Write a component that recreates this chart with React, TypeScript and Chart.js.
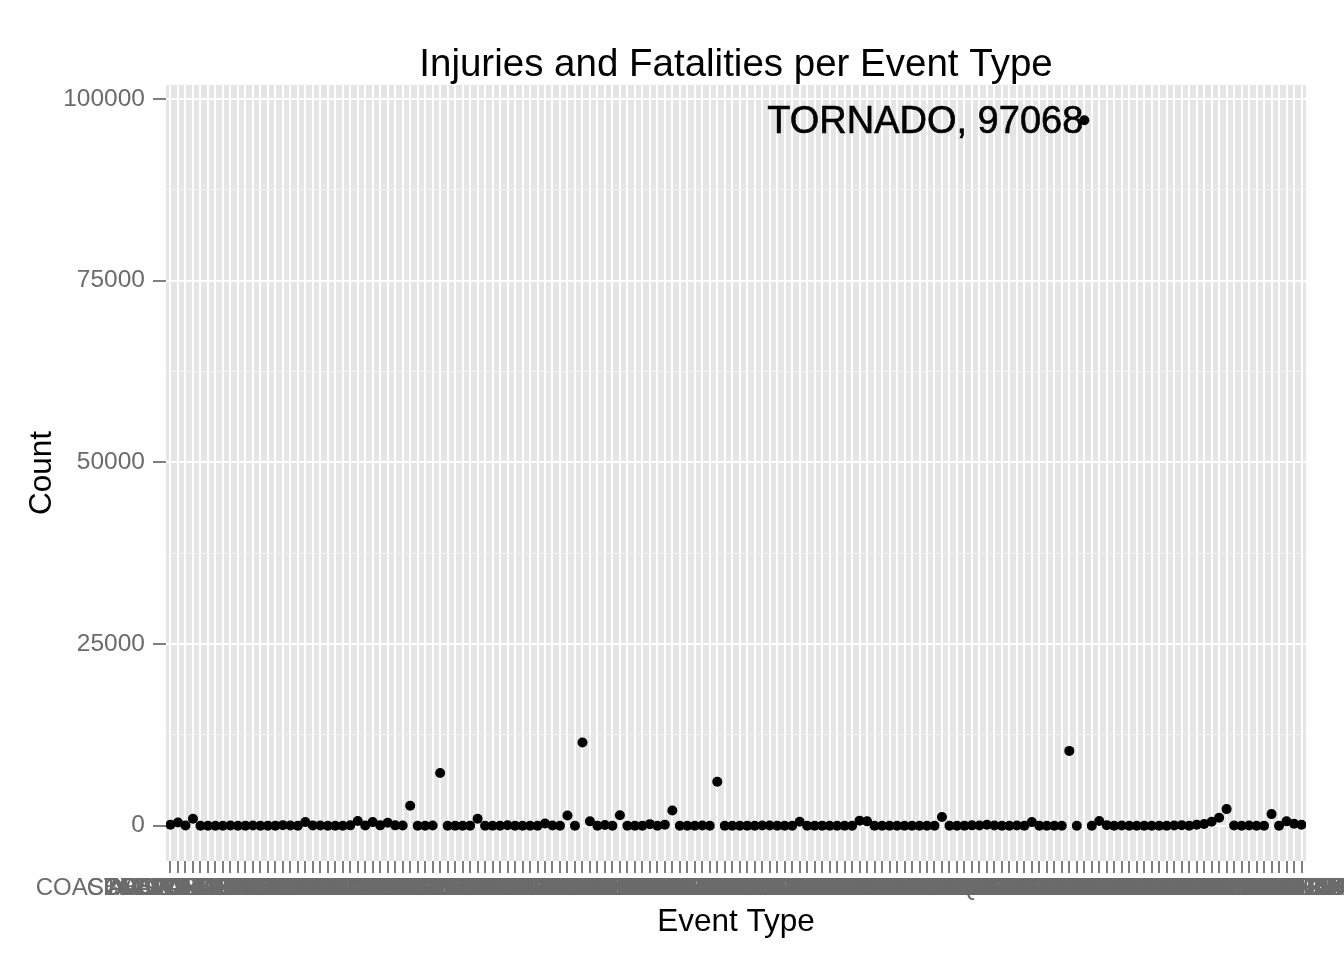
import React, { useEffect, useRef } from "react";
import { Chart, registerables } from "chart.js";

Chart.register(...registerables);

const FONT = "'Liberation Sans', Arial, Helvetica, sans-serif";

const chartTitle = "Injuries and Fatalities per Event Type";
const xAxisTitle = "Event Type";
const yAxisTitle = "Count";

// Event types (x categories), 152 in total
const eventTypes = [
  "AVALANCE", "AVALANCHE", "BLACK ICE", "BLIZZARD", "BLOWING SNOW", "COASTAL FLOODING", "COASTAL FLOODING/EROSION", "COASTAL STORM", "COLD", "COLD AND WET",
  "COLD TEMPERATURE", "COLD WAVE", "COLD WEATHER", "COLD/WIND CHILL", "COLD/WINDS", "DENSE FOG", "DROUGHT", "DROWNING", "DRY MICROBURST", "DUST DEVIL",
  "DUST STORM", "EXCESSIVE RAINFALL", "EXCESSIVE SNOW", "EXTENDED COLD", "EXTREME COLD", "EXTREME COLD/WIND CHILL", "EXTREME HEAT", "EXTREME WINDCHILL", "FALLING SNOW/ICE", "FIRE",
  "FLASH FLOOD/ STREET", "FLASH FLOOD FROM ICE JAMS", "FLASH FLOOD", "FLASH FLOOD/FLOOD", "FLASH FLOODING", "FLASH FLOODS", "FLOOD", "FLOOD & HEAVY RAIN", "FLOOD/FLASH FLOOD", "FLOOD/RIVER FLOOD",
  "FLOODING", "FOG", "FOG AND COLD TEMPERATURES", "FREEZE", "FREEZING DRIZZLE", "FREEZING RAIN", "FREEZING SPRAY", "FROST", "FUNNEL CLOUD", "GLAZE",
  "GLAZE/ICE STORM", "GUSTY WIND", "GUSTY WINDS", "HAIL", "HAZARDOUS SURF", "HEAT", "HEAT WAVE", "HEAT WAVE DROUGHT", "HEAVY RAIN", "HEAVY SEAS",
  "HEAVY SNOW", "HEAVY SNOW/ICE", "HEAVY SURF", "HEAVY SURF/HIGH SURF", "HIGH SEAS", "HIGH SURF", "HIGH SWELLS", "HIGH WIND", "HIGH WIND AND SEAS", "HIGH WINDS/SNOW",
  "HURRICANE/TYPHOON", "ICE ON ROAD", "ICY ROADS", "LIGHTNING", "LIGHTNING INJURY", "LOW TEMPERATURE", "MARINE HIGH WIND", "MARINE MISHAP", "MARINE STRONG WIND", "MARINE THUNDERSTORM WIND",
  "MARINE TSTM WIND", "MINOR FLOODING", "MIXED PRECIP", "MUD SLIDE", "MUDSLIDE", "NON TSTM WIND", "NON-SEVERE WIND DAMAGE", "OTHER", "RAIN/SNOW", "RAIN/WIND",
  "RAPIDLY RISING WATER", "RECORD COLD", "RIP CURRENT", "RIP CURRENTS", "RIP CURRENTS/HEAVY SURF", "RIVER FLOOD", "RIVER FLOODING", "ROGUE WAVE", "ROUGH SEAS", "ROUGH SURF",
  "SLEET", "SMALL HAIL", "SNOW", "SNOW AND ICE", "SNOW SQUALL", "SNOW/ BITTER COLD", "SNOW/HIGH WINDS", "STORM SURGE", "STORM SURGE/TIDE", "STRONG WIND",
  "STRONG WINDS", "THUNDERSNOW", "THUNDERSTORM", "THUNDERSTORM WIND 60 MPH", "THUNDERSTORM WIND G52", "THUNDERSTORM WINDS 13", "THUNDERSTORM WINDS/HAIL", "THUNDERSTORM WINDSS", "THUNDERSTORMS WINDS", "THUNDERSTORMW",
  "THUNDERSTORM WIND", "TIDAL FLOODING", "TORNADO", "TORNADO F2", "TORNADO F3", "TORNADOES TSTM WIND HAIL", "TROPICAL STORM", "TROPICAL STORM GORDON", "TSUNAMI", "TSTM WIND G35",
  "TSTM WIND/HAIL", "TYPHOON", "UNSEASONABLY COLD", "UNSEASONABLY WARM", "UNSEASONABLY WARM AND DRY", "URBAN AND SMALL STREAM FLOODIN", "URBAN/SML STREAM FLD", "WARM WEATHER", "WATERSPOUT", "WATERSPOUT TORNADO",
  "WATERSPOUT/TORNADO", "WILD/FOREST FIRE", "WILD FIRES", "WILDFIRE", "WIND", "WIND STORM", "WINDS", "WINTER STORM", "WINTER STORM HIGH WINDS", "WINTER STORMS",
  "WINTER WEATHER", "WINTER WEATHER/MIX",
];

// Injuries + fatalities per event type
const totals = [
  150, 450, 25, 950, 3, 2, 10, 5, 30, 2,
  12, 20, 8, 15, 14, 80, 40, 3, 500, 45,
  30, 2, 5, 1, 50, 650, 20, 500, 50, 400,
  50, 20, 2755, 10, 5, 20, 7259, 5, 10, 3,
  15, 960, 5, 2, 10, 60, 3, 3, 5, 7,
  300, 40, 10, 1400, 10, 11460, 600, 5, 90, 10,
  1450, 10, 5, 12, 220, 5, 150, 2100, 3, 5,
  10, 20, 2, 6046, 3, 1, 5, 12, 5, 20,
  40, 15, 1, 2, 550, 2, 5, 12, 5, 5,
  3, 2, 700, 600, 10, 5, 2, 6, 10, 8,
  3, 2, 10, 1200, 5, 3, 15, 50, 25, 130,
  30, 3, 1, 20, 5, 500, 15, 2, 5, 3,
  10300, 10, 97068, 5, 650, 80, 1, 40, 5, 3,
  5, 2, 10, 3, 30, 80, 2, 150, 250, 550,
  1100, 2290, 20, 10, 30, 5, 10, 1600, 10, 600,
  280, 140,
];

const yMajorTicks = [0, 25000, 50000, 75000, 100000];
const yMinorTicks = [12500, 37500, 62500, 87500];

const PANEL_BG = "#E5E5E5";
const TEXT_GREY = "#6B6B6B";
const TICK_GREY = "#7F7F7F";

export default function App() {
  const canvasRef = useRef<HTMLCanvasElement | null>(null);

  useEffect(() => {
    const canvas = canvasRef.current;
    if (!canvas) return;
    const n = eventTypes.length;
    const lo = Math.min(...totals);
    const hi = Math.max(...totals);
    const span = hi - lo;
    const yMin = lo - 0.05 * span;
    const yMax = hi + 0.05 * span;
    const peakIndex = totals.indexOf(hi);
    const peakLabel = `${eventTypes[peakIndex]}, ${totals[peakIndex]}`;

    const panelPlugin = {
      id: "panelPlugin",
      beforeDraw(chart: any) {
        const { ctx, chartArea: a, width, height } = chart;
        ctx.save();
        ctx.fillStyle = "#FFFFFF";
        ctx.fillRect(0, 0, width, height);
        ctx.fillStyle = PANEL_BG;
        ctx.fillRect(a.left, a.top, a.right - a.left, a.bottom - a.top);
        ctx.restore();
      },
      afterDatasetsDraw(chart: any) {
        const { ctx } = chart;
        const xs = chart.scales.x;
        const ys = chart.scales.y;
        const px = xs.getPixelForValue(peakIndex);
        const py = ys.getPixelForValue(totals[peakIndex]);
        ctx.save();
        ctx.font = `38px ${FONT}`;
        ctx.fillStyle = "#000000";
        ctx.strokeStyle = "#000000";
        ctx.lineWidth = 0.6;
        ctx.textAlign = "right";
        ctx.textBaseline = "middle";
        ctx.fillText(peakLabel, px - 1, py + 2.5);
        ctx.strokeText(peakLabel, px - 1, py + 2.5);
        ctx.restore();
      },
    };

    const isMajor = (v: number) => yMajorTicks.includes(v);

    const chart = new Chart(canvas, {
      type: "scatter",
      data: {
        datasets: [
          {
            data: totals.map((v, i) => ({ x: i, y: v })),
            backgroundColor: "#000000",
            pointBackgroundColor: "#000000",
            pointBorderWidth: 0,
            borderWidth: 0,
            pointRadius: 5,
            pointHoverRadius: 5,
          },
        ],
      },
      options: {
        animation: false,
        responsive: false,
        events: [],
        layout: { padding: { left: 0, right: 38, top: 0, bottom: 0 } },
        plugins: {
          legend: { display: false },
          tooltip: { enabled: false },
          title: {
            display: true,
            text: chartTitle,
            color: "#000000",
            fullSize: false,
            font: { family: FONT, size: 38.5, weight: "normal", lineHeight: 1 },
            padding: { top: 45.75, bottom: 0.75 },
          },
        },
        scales: {
          x: {
            type: "linear",
            min: -0.6,
            max: n - 1 + 0.6,
            afterBuildTicks: (s: any) => {
              s.ticks = eventTypes.map((_, i) => ({ value: i }));
            },
            afterFit: (s: any) => {
              s.height = 99;
              s.paddingLeft = 0;
              s.paddingRight = 0;
            },
            ticks: {
              autoSkip: false,
              maxRotation: 0,
              minRotation: 0,
              padding: 1,
              color: TEXT_GREY,
              font: { family: FONT, size: 24 },
              callback: (v: any) => eventTypes[v] ?? "",
            },
            grid: {
              color: "#FFFFFF",
              lineWidth: 2,
              tickColor: TICK_GREY,
              tickLength: 12,
              tickWidth: 2,
            },
            border: { display: false },
            title: {
              display: true,
              text: xAxisTitle,
              color: "#000000",
              font: { family: FONT, size: 31.5 },
              padding: { top: 0, bottom: 19 },
            },
          },
          y: {
            type: "linear",
            min: yMin,
            max: yMax,
            afterBuildTicks: (s: any) => {
              s.ticks = [...yMajorTicks, ...yMinorTicks]
                .sort((a, b) => a - b)
                .map((v) => ({ value: v }));
            },
            afterFit: (s: any) => {
              s.width = 166;
              s.paddingTop = 0;
              s.paddingBottom = 0;
            },
            ticks: {
              padding: 8,
              color: TEXT_GREY,
              font: { family: FONT, size: 24.5 },
              callback: (v: any) => (isMajor(v) ? String(v) : ""),
            },
            grid: {
              color: (c: any) => (isMajor(c.tick?.value) ? "#FFFFFF" : "#F2F2F2"),
              lineWidth: (c: any) => (isMajor(c.tick?.value) ? 2 : 1),
              tickColor: (c: any) => (isMajor(c.tick?.value) ? TICK_GREY : "rgba(0,0,0,0)"),
              tickLength: 13,
              tickWidth: 2,
            },
            border: { display: false },
            title: {
              display: true,
              text: yAxisTitle,
              color: "#000000",
              font: { family: FONT, size: 31.5 },
              padding: { top: 23, bottom: 0 },
            },
          },
        },
      },
      plugins: [panelPlugin],
    } as any);

    return () => chart.destroy();
  }, []);

  return (
    <div
      style={{
        position: "absolute",
        left: 0,
        top: 0,
        width: 1344,
        height: 960,
        background: "#FFFFFF",
      }}
    >
      <canvas ref={canvasRef} width={1344} height={960} style={{ display: "block" }} />
    </div>
  );
}
